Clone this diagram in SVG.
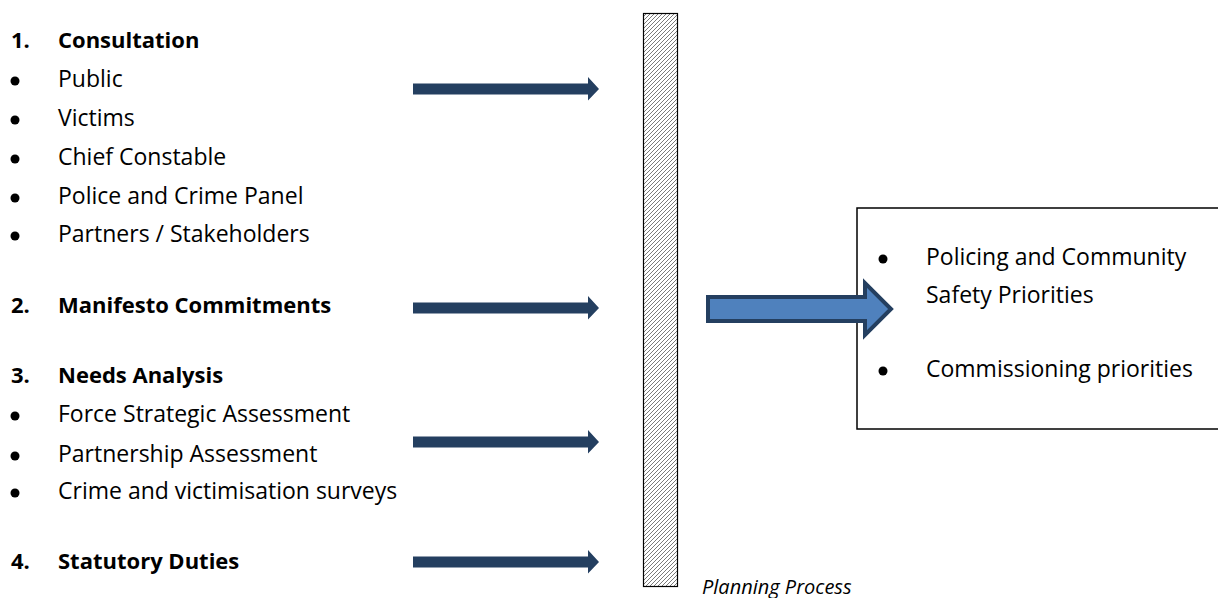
<svg xmlns="http://www.w3.org/2000/svg" width="1218" height="598" viewBox="0 0 1218 598">
<defs>
<pattern id="hatch" patternUnits="userSpaceOnUse" width="4" height="4">
<rect width="4" height="4" fill="#ffffff"/>
<path d="M-1,1 L1,-1 M0,4 L4,0 M3,5 L5,3" stroke="#7a7a7a" stroke-width="1"/>
</pattern>
<style>
text{font-family:"Open Sans","Noto Sans","Liberation Sans",sans-serif;font-size:23px;fill:#000}
.b{font-weight:bold;font-size:22px}
.i{font-style:italic;font-size:20px}
.thin{fill:#243F60}
</style>
</defs>
<rect width="1218" height="598" fill="#ffffff"/>
<g id="inputs">
<text class="b" x="11" y="48">1.</text><text class="b" x="58" y="48">Consultation</text>
<circle cx="15" cy="81" r="4.5"/><text x="58" y="87">Public</text>
<circle cx="15" cy="120" r="4.5"/><text x="58" y="126">Victims</text>
<circle cx="15" cy="159" r="4.5"/><text x="58" y="165">Chief Constable</text>
<circle cx="15" cy="198" r="4.5"/><text x="58" y="204">Police and Crime Panel</text>
<circle cx="15" cy="236" r="4.5"/><text x="58" y="242">Partners / Stakeholders</text>
<text class="b" x="11" y="313">2.</text><text class="b" x="58" y="313">Manifesto Commitments</text>
<text class="b" x="11" y="383">3.</text><text class="b" x="58" y="383">Needs Analysis</text>
<circle cx="15" cy="416" r="4.5"/><text x="58" y="422">Force Strategic Assessment</text>
<circle cx="15" cy="456" r="4.5"/><text x="58" y="462">Partnership Assessment</text>
<circle cx="15" cy="493" r="4.5"/><text x="58" y="499">Crime and victimisation surveys</text>
<text class="b" x="11" y="569">4.</text><text class="b" x="58" y="569">Statutory Duties</text>
</g>
<g id="planning-bar">
<rect x="643.5" y="13.5" width="34" height="573" fill="url(#hatch)" stroke="#000" stroke-width="1.2"/>
<text class="i" x="702" y="594">Planning Process</text>
</g>
<g id="output-box">
<rect x="857" y="208" width="370" height="221" fill="#fff" stroke="#000" stroke-width="1.5"/>
<circle cx="883" cy="259" r="4.5"/><text x="926" y="265">Policing and Community</text>
<text x="926" y="303">Safety Priorities</text>
<circle cx="883" cy="371" r="4.5"/><text x="926" y="377">Commissioning priorities</text>
</g>
<g id="connectors">
<path class="thin" d="M413,83.5 H588 V77 L599,89 L588,100.5 V94.5 H413 Z"/>
<path class="thin" d="M413,302.5 H588 V296 L599,308 L588,319.5 V313.5 H413 Z"/>
<path class="thin" d="M413,436.5 H588 V430 L599,442 L588,453.5 V447.5 H413 Z"/>
<path class="thin" d="M413,556.5 H588 V550 L599,562 L588,573.5 V567.5 H413 Z"/>
<path d="M708,297 H865 V283 L891,309 L865,335 V321 H708 Z" fill="#4F81BD" stroke="#243F60" stroke-width="4" stroke-linejoin="miter"/>
</g>
</svg>
